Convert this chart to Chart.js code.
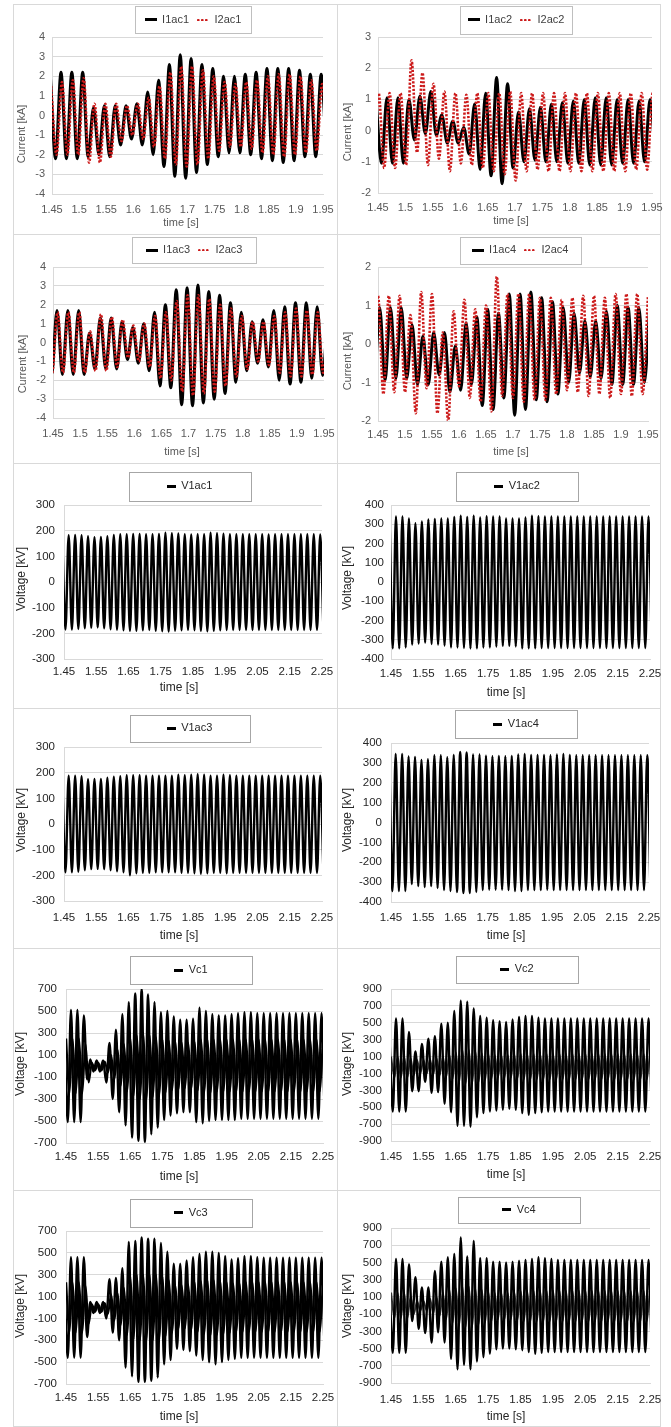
<!DOCTYPE html>
<html>
<head>
<meta charset="utf-8">
<script src="https://cdn.jsdelivr.net/npm/chart.js@4.4.1/dist/chart.umd.min.js"></script>
<style>
html,body{margin:0;padding:0;background:#fff;}
body{width:671px;height:1427px;position:relative;overflow:hidden;}
.panel{position:absolute;border:1px solid #d9d9d9;box-sizing:border-box;}
canvas{position:absolute;}
</style>
</head>
<body>
<script>
// ---------------- tick values ----------------
const currentTimeTicks = [1.45, 1.5, 1.55, 1.6, 1.65, 1.7, 1.75, 1.8, 1.85, 1.9, 1.95];
const voltageTimeTicks = [1.45, 1.55, 1.65, 1.75, 1.85, 1.95, 2.05, 2.15, 2.25];
const yTicksI4 = [-4, -3, -2, -1, 0, 1, 2, 3, 4];
const yTicksI3 = [-2, -1, 0, 1, 2, 3];
const yTicksI2 = [-2, -1, 0, 1, 2];
const yTicksV300 = [-300, -200, -100, 0, 100, 200, 300];
const yTicksV400 = [-400, -300, -200, -100, 0, 100, 200, 300, 400];
const yTicksVc700 = [-700, -500, -300, -100, 100, 300, 500, 700];
const yTicksVc900 = [-900, -700, -500, -300, -100, 100, 300, 500, 700, 900];

// ---------------- series: successive peaks (hi) and troughs (lo) ----------------
// t0 = time of the first peak [s]
const I1ac1_t0 = 1.4466;
const I1ac1_hi = [2.2,2.2,2.2,2.2,0.4,0.5,0.5,0.5,0.6,1.2,1.8,2.6,3.1,2.9,2.6,2.4,2.0,2.0,2.1,2.2,2.4,2.4,2.4,2.3,2.1,2.1];
const I1ac1_lo = [-2.2,-2.2,-2.2,-2.1,-2.0,-2.1,-1.5,-1.2,-1.5,-2.0,-2.6,-3.1,-3.2,-2.9,-2.5,-2.1,-1.9,-1.9,-2.0,-2.2,-2.3,-2.4,-2.3,-2.1,-2.1,-2.1];
const I2ac1_t0 = 1.4484;
const I2ac1_hi = [1.5,1.7,1.8,1.9,0.6,0.6,0.6,0.5,0.6,0.9,1.5,2.2,2.5,2.5,2.3,2.0,1.7,1.6,1.7,1.8,2.0,2.1,2.1,2.0,1.8,1.6];
const I2ac1_lo = [-2.0,-2.0,-2.0,-2.4,-2.4,-2.1,-1.3,-1.0,-1.2,-1.6,-2.2,-2.5,-2.6,-2.5,-2.2,-1.8,-1.6,-1.6,-1.7,-1.9,-2.0,-2.1,-2.0,-1.9,-1.8,-1.8];

const I1ac2_t0 = 1.4464;
const I1ac2_hi = [1.0,1.05,1.05,1.0,1.1,1.25,0.5,0.3,0.1,0.85,1.2,1.7,1.5,0.6,0.7,0.75,0.85,0.9,0.95,1.0,1.05,1.05,1.0,1.0,0.95,1.0];
const I1ac2_lo = [-1.05,-1.05,-1.05,-0.3,-0.1,-0.15,-0.4,-0.4,-0.75,-1.25,-1.45,-1.7,-1.2,-1.0,-0.95,-1.0,-1.0,-1.05,-1.05,-1.1,-1.1,-1.1,-1.05,-1.05,-1.0,-0.9];
const I2ac2_t0 = 1.4312;
const I2ac2_hi = [1.2,1.2,1.2,1.2,2.25,1.85,1.5,1.25,1.2,1.15,1.2,1.2,1.2,1.25,1.2,1.2,1.2,1.2,1.2,1.2,1.2,1.2,1.2,1.2,1.2,1.2,1.2];
const I2ac2_lo = [-1.2,-1.2,-1.2,-1.1,-0.7,-1.1,-0.9,-1.3,-1.05,-1.1,-1.2,-1.3,-1.4,-1.6,-1.3,-1.25,-1.3,-1.3,-1.3,-1.3,-1.3,-1.3,-1.3,-1.3,-1.25,-1.25,-1.25];

const I1ac3_t0 = 1.4374;
const I1ac3_hi = [1.7,1.7,1.7,1.7,0.5,1.3,1.3,1.1,0.8,1.0,1.6,2.0,2.8,2.9,3.05,2.7,2.5,2.1,1.6,1.1,1.2,1.7,1.9,2.1,2.1,1.9,1.8];
const I1ac3_lo = [-1.7,-1.7,-1.7,-1.7,-1.4,-1.4,-1.4,-0.9,-1.1,-1.5,-2.3,-2.4,-3.3,-3.35,-3.2,-3.0,-2.7,-2.1,-1.5,-1.1,-1.3,-2.0,-2.2,-2.1,-1.9,-1.75];
const I2ac3_t0 = 1.4384;
const I2ac3_hi = [1.6,1.6,1.6,1.6,0.6,1.5,1.35,1.2,0.9,1.0,1.4,1.6,2.2,2.5,2.5,2.3,2.0,1.8,1.4,1.1,1.1,1.4,1.6,1.8,1.7,1.6,1.5];
const I2ac3_lo = [-1.6,-1.6,-1.6,-1.6,-1.5,-1.5,-1.3,-0.8,-1.0,-1.3,-1.9,-2.0,-2.6,-2.8,-2.7,-2.6,-2.3,-1.8,-1.4,-1.0,-1.2,-1.6,-1.8,-1.8,-1.7,-1.6];

const I1ac4_t0 = 1.4331;
const I1ac4_hi = [0.95,0.95,0.95,0.95,0.5,0.2,0.3,0.3,-0.05,0.55,0.7,0.9,0.8,1.3,1.3,1.35,1.2,1.1,0.95,0.8,0.6,0.6,0.85,1.0,0.95,0.95,0.95];
const I1ac4_lo = [-0.95,-0.95,-0.9,-0.9,-1.05,-1.05,-0.8,-1.25,-1.2,-1.05,-1.6,-1.7,-1.4,-1.85,-1.7,-1.45,-1.5,-1.3,-1.0,-0.75,-0.85,-0.9,-1.05,-1.05,-1.05,-1.0];
const I2ac4_t0 = 1.43;
const I2ac4_hi = [1.25,1.25,1.25,1.25,0.75,1.35,1.3,0.3,0.85,1.15,0.9,1.0,1.75,1.3,1.3,1.3,1.2,1.2,1.15,1.2,1.25,1.25,1.2,1.3,1.3,1.3,1.25];
const I2ac4_lo = [-1.3,-1.3,-1.25,-1.25,-1.8,-1.15,-1.8,-2.0,-1.1,-1.4,-1.5,-1.75,-1.35,-1.4,-1.5,-1.45,-1.45,-1.3,-1.2,-1.25,-1.35,-1.3,-1.4,-1.3,-1.35,-1.3];

const V1ac1_t0 = 1.4445;
const V1ac1_hi = [182,182,183,182,178,175,176,178,183,186,186,187,187,186,186,187,192,190,189,186,185,186,186,192,190,188,186,186,186,186,186,186,185,186,186,186,186,186,186,186,185];
const V1ac1_lo = [-185,-185,-183,-180,-178,-177,-180,-184,-186,-188,-190,-190,-188,-187,-190,-192,-193,-190,-188,-187,-188,-190,-192,-190,-188,-187,-187,-187,-187,-187,-187,-187,-187,-187,-187,-187,-187,-187,-187,-187,-187];
const V1ac2_t0 = 1.4454;
const V1ac2_hi = [340,340,340,330,305,315,325,328,330,330,338,345,338,345,335,342,340,340,330,330,330,335,345,342,340,340,340,340,340,340,340,340,340,340,340,340,340,340,340,340,340];
const V1ac2_lo = [-345,-345,-340,-325,-320,-315,-322,-325,-330,-340,-340,-343,-345,-345,-340,-340,-335,-332,-332,-335,-345,-345,-345,-343,-343,-343,-343,-343,-343,-343,-343,-343,-343,-343,-343,-343,-343,-343,-343,-343,-343];
const V1ac3_t0 = 1.4445;
const V1ac3_hi = [188,188,188,186,175,176,176,180,184,186,190,190,190,188,188,188,188,188,192,190,192,194,192,188,188,192,190,188,188,188,188,188,188,188,188,188,188,188,188,188,188];
const V1ac3_lo = [-188,-188,-186,-180,-176,-175,-176,-180,-184,-188,-200,-192,-190,-190,-188,-188,-188,-188,-190,-190,-192,-194,-192,-190,-190,-192,-190,-190,-190,-190,-190,-190,-190,-190,-190,-190,-190,-190,-190,-190,-190];
const V1ac4_t0 = 1.4445;
const V1ac4_hi = [345,345,345,332,330,315,318,338,338,328,340,355,352,343,342,336,333,335,333,335,343,345,340,340,340,338,343,345,340,338,338,338,338,338,338,338,338,338,338,338,338];
const V1ac4_lo = [-345,-345,-345,-310,-320,-325,-320,-330,-340,-345,-350,-355,-355,-350,-340,-338,-338,-338,-340,-345,-345,-340,-340,-340,-338,-340,-340,-340,-340,-340,-340,-340,-340,-340,-340,-340,-340,-340,-340,-340,-340];

const Vc1_t0 = 1.4455;
const Vc1_hi = [250,510,510,460,60,50,50,210,330,470,580,660,700,650,580,490,500,450,420,420,430,530,500,470,460,460,470,480,490,490,480,480,480,480,480,480,480,480,480,480,480];
const Vc1_lo = [-510,-510,-510,-120,-50,-50,-150,-300,-420,-540,-650,-680,-690,-620,-560,-490,-450,-430,-420,-420,-510,-520,-500,-490,-490,-490,-490,-480,-480,-480,-480,-480,-480,-480,-480,-480,-480,-480,-480,-480,-480];
const Vc1_in_hi = [250,250,250,200,30,30,40,100,150,200,250,280,300,280,260,240,230,220,210,210,220,240,240,240,240,240,240,240,240,240,240,240,240,240,240,240,240,240,240,240,240];
const Vc1_in_lo = [-250,-250,-250,-150,-40,-40,-60,-120,-180,-230,-270,-300,-300,-280,-260,-240,-220,-210,-200,-200,-220,-240,-240,-230,-230,-230,-230,-230,-230,-230,-230,-230,-230,-230,-230,-230,-230,-230,-230,-230,-230];

const Vc2_t0 = 1.4455;
const Vc2_hi = [300,550,550,390,160,250,310,340,490,500,640,760,750,670,580,560,530,520,510,540,570,580,580,560,550,550,550,550,550,550,550,550,550,550,550,550,550,550,550,550,550];
const Vc2_lo = [-550,-550,-550,-310,-310,-200,-330,-320,-460,-560,-720,-720,-730,-620,-570,-550,-540,-530,-520,-530,-570,-590,-570,-560,-550,-550,-550,-550,-550,-550,-550,-550,-550,-550,-550,-550,-550,-550,-550,-550,-550];
const Vc2_in_hi = [100,100,100,80,60,60,70,80,100,120,150,180,180,160,140,130,120,120,120,130,130,130,130,130,130,130,130,130,130,130,130,130,130,130,130,130,130,130,130,130,130];
const Vc2_in_lo = [-150,-150,-150,-120,-100,-100,-110,-120,-140,-160,-200,-220,-220,-200,-180,-160,-150,-150,-150,-160,-170,-170,-170,-170,-170,-170,-170,-170,-170,-170,-170,-170,-170,-170,-170,-170,-170,-170,-170,-170,-170];

const Vc3_t0 = 1.4455;
const Vc3_hi = [200,460,460,460,50,50,50,260,270,360,600,610,640,630,630,590,510,400,400,430,460,490,510,510,500,470,440,450,470,470,460,455,455,455,455,455,455,455,455,455,455];
const Vc3_lo = [-460,-460,-460,-270,-50,-50,-100,-230,-300,-550,-630,-680,-680,-670,-640,-520,-480,-380,-390,-400,-440,-480,-500,-520,-500,-480,-470,-460,-460,-460,-460,-460,-460,-460,-460,-460,-460,-460,-460,-460,-460];
const Vc3_in_hi = [230,230,230,200,30,30,40,120,130,180,280,300,300,300,300,280,250,200,200,210,230,240,250,250,240,230,220,220,230,230,230,230,230,230,230,230,230,230,230,230,230];
const Vc3_in_lo = [-230,-230,-230,-150,-40,-40,-60,-120,-160,-250,-290,-300,-300,-300,-290,-260,-230,-190,-190,-200,-220,-240,-250,-250,-240,-230,-220,-220,-220,-220,-220,-220,-220,-220,-220,-220,-220,-220,-220,-220,-220];

const Vc4_t0 = 1.4455;
const Vc4_hi = [200,540,540,480,330,210,210,400,510,560,600,790,570,750,550,550,510,510,500,510,520,530,540,560,550,540,530,530,530,530,530,530,530,530,530,530,530,530,530,530,530];
const Vc4_lo = [-550,-550,-550,-180,-270,-320,-430,-310,-430,-620,-740,-690,-740,-650,-600,-560,-510,-500,-500,-510,-520,-540,-560,-550,-540,-540,-540,-540,-540,-540,-540,-540,-540,-540,-540,-540,-540,-540,-540,-540,-540];
const Vc4_in_hi = [150,150,150,100,50,50,80,100,150,180,200,220,220,200,180,160,150,150,150,160,170,170,170,170,170,170,170,170,170,170,170,170,170,170,170,170,170,170,170,170,170];
const Vc4_in_lo = [-150,-150,-150,-100,-60,-60,-90,-120,-160,-200,-230,-250,-250,-220,-200,-180,-160,-160,-160,-170,-180,-180,-180,-180,-180,-180,-180,-180,-180,-180,-180,-180,-180,-180,-180,-180,-180,-180,-180,-180,-180];

// ---------------- helpers ----------------
const HALF = 0.01; // half period of the 50 Hz waveforms [s]
function wave(hi, lo, t0) {
  const pts = [];
  const n = Math.max(hi.length, lo.length);
  for (let k = 0; k < n; k++) {
    if (k < hi.length) pts.push({x: t0 + 2 * HALF * k, y: hi[k]});
    if (k < lo.length) pts.push({x: t0 + HALF + 2 * HALF * k, y: lo[k]});
  }
  return pts;
}
const FONT = "'Liberation Sans', Arial, sans-serif";
const BLACK = '#000000', RED = '#cc1a1a';

// legend sample glyphs (solid bar / dotted)
function sampleSolid(w, h, color) {
  const c = document.createElement('canvas'); c.width = w; c.height = h;
  const g = c.getContext('2d'); g.fillStyle = color; g.fillRect(0, 0, w, h);
  return c;
}
function sampleDots(w, h, color) {
  const c = document.createElement('canvas'); c.width = w; c.height = h;
  const g = c.getContext('2d'); g.fillStyle = color;
  for (let x = h / 2; x < w; x += 4) { g.beginPath(); g.arc(x, h / 2, h / 2, 0, Math.PI * 2); g.fill(); }
  return c;
}

function ds(label, data, color, width, dash, order, inLegend, sample) {
  return {label, data, borderColor: color, backgroundColor: color, borderWidth: width,
    borderDash: dash, pointRadius: 0, pointHoverRadius: 0, fill: false,
    cubicInterpolationMode: 'monotone', order, inLegend: inLegend !== false, sample};
}

const CUR = {tickFont: 11, tickColor: '#595959', titleFont: 11, titleColor: '#595959',
  legendFont: 11, legendColor: '#404040', boxColor: '#bfbfbf', legendLine: 12,
  yTitle: 'Current [kA]', xMin: 1.45, xMax: 1.95, xTicks: currentTimeTicks};
const VOLT = {tickFont: 11.5, tickColor: '#262626', titleFont: 12, titleColor: '#262626',
  legendFont: 11, legendColor: '#262626', boxColor: '#a6a6a6', legendLine: 9,
  yTitle: 'Voltage [kV]', xMin: 1.45, xMax: 2.25, xTicks: voltageTimeTicks};

const SOLID_C = sampleSolid(12, 3, BLACK);
const DOTS_C = sampleDots(12, 2.6, RED);
const SOLID_V = sampleSolid(9, 3, BLACK);

const ROWS = [4, 234, 463, 708, 948, 1190, 1427];
const COLS = [[13, 338], [337, 661]];
const EX = 10;
const DOT = [2.2, 1.6];

const panels = [
  {s: CUR, c: 0, r: 0, plot: [52, 323, 37, 194], lg: [193, 19.5, 116, 27], yt: [22, 134], xt: [181, 223], xTickY: 210, yPad: 7, yTicks: yTicksI4,
   sets: [ds('I1ac1', wave(I1ac1_hi, I1ac1_lo, I1ac1_t0), BLACK, 3, [], 2, true, SOLID_C), ds('I2ac1', wave(I2ac1_hi, I2ac1_lo, I2ac1_t0), RED, 2.6, DOT, 1, true, DOTS_C)]},
  {s: CUR, c: 1, r: 0, plot: [378, 652, 37, 193], lg: [516, 19.5, 112, 28], yt: [348, 132], xt: [511, 221], xTickY: 208, yPad: 7, yTicks: yTicksI3,
   sets: [ds('I1ac2', wave(I1ac2_hi, I1ac2_lo, I1ac2_t0), BLACK, 3, [], 2, true, SOLID_C), ds('I2ac2', wave(I2ac2_hi, I2ac2_lo, I2ac2_t0), RED, 2.6, DOT, 1, true, DOTS_C)]},
  {s: CUR, c: 0, r: 1, plot: [53, 324, 267, 418], lg: [194, 250, 124, 26], yt: [23, 364], xt: [182, 452], xTickY: 434, yPad: 7, yTicks: yTicksI4,
   sets: [ds('I1ac3', wave(I1ac3_hi, I1ac3_lo, I1ac3_t0), BLACK, 3, [], 2, true, SOLID_C), ds('I2ac3', wave(I2ac3_hi, I2ac3_lo, I2ac3_t0), RED, 2.6, DOT, 1, true, DOTS_C)]},
  {s: CUR, c: 1, r: 1, plot: [378, 648, 267, 421], lg: [520, 250, 121, 27], yt: [348, 361], xt: [511, 452], xTickY: 435, yPad: 7, yTicks: yTicksI2,
   sets: [ds('I1ac4', wave(I1ac4_hi, I1ac4_lo, I1ac4_t0), BLACK, 3, [], 2, true, SOLID_C), ds('I2ac4', wave(I2ac4_hi, I2ac4_lo, I2ac4_t0), RED, 2.6, DOT, 1, true, DOTS_C)]},
  {s: VOLT, c: 0, r: 2, plot: [64, 322, 505, 659], lg: [189.5, 486, 122, 29], yt: [22, 579], xt: [179, 688], xTickY: 672, yPad: 9, yTicks: yTicksV300,
   sets: [ds('V1ac1', wave(V1ac1_hi, V1ac1_lo, V1ac1_t0), BLACK, 2.4, [], 1, true, SOLID_V)]},
  {s: VOLT, c: 1, r: 2, plot: [391, 650, 505, 659], lg: [517, 486, 122, 29], yt: [348, 578], xt: [506, 693], xTickY: 674, yPad: 7, yTicks: yTicksV400,
   sets: [ds('V1ac2', wave(V1ac2_hi, V1ac2_lo, V1ac2_t0), BLACK, 2.4, [], 1, true, SOLID_V)]},
  {s: VOLT, c: 0, r: 3, plot: [64, 322, 747, 901], lg: [189.5, 728, 120, 27], yt: [22, 820], xt: [179, 936], xTickY: 918, yPad: 9, yTicks: yTicksV300,
   sets: [ds('V1ac3', wave(V1ac3_hi, V1ac3_lo, V1ac3_t0), BLACK, 2.4, [], 1, true, SOLID_V)]},
  {s: VOLT, c: 1, r: 3, plot: [391, 649, 743, 902], lg: [516, 724, 122, 28], yt: [348, 820], xt: [506, 936], xTickY: 918, yPad: 9, yTicks: yTicksV400,
   sets: [ds('V1ac4', wave(V1ac4_hi, V1ac4_lo, V1ac4_t0), BLACK, 2.4, [], 1, true, SOLID_V)]},
  {s: VOLT, c: 0, r: 4, plot: [66, 323, 989, 1143], lg: [191, 970, 122, 28], yt: [21, 1064], xt: [179, 1177], xTickY: 1157, yPad: 9, yTicks: yTicksVc700,
   sets: [ds('Vc1', wave(Vc1_hi, Vc1_lo, Vc1_t0), BLACK, 2.4, [], 1, true, SOLID_V), ds('Vc1 ripple', wave(Vc1_in_hi, Vc1_in_lo, Vc1_t0 + HALF / 2), BLACK, 2.1, [], 2, false)]},
  {s: VOLT, c: 1, r: 4, plot: [391, 650, 989, 1141], lg: [517, 969, 122, 27], yt: [348, 1064], xt: [506, 1175], xTickY: 1157, yPad: 9, yTicks: yTicksVc900,
   sets: [ds('Vc2', wave(Vc2_hi, Vc2_lo, Vc2_t0), BLACK, 2.4, [], 1, true, SOLID_V), ds('Vc2 ripple', wave(Vc2_in_hi, Vc2_in_lo, Vc2_t0 + HALF / 2), '#333333', 1.8, [], 2, false)]},
  {s: VOLT, c: 0, r: 5, plot: [66, 323, 1231, 1384], lg: [191, 1212.5, 122, 28], yt: [21, 1306], xt: [179, 1417], xTickY: 1398, yPad: 9, yTicks: yTicksVc700,
   sets: [ds('Vc3', wave(Vc3_hi, Vc3_lo, Vc3_t0), BLACK, 2.4, [], 1, true, SOLID_V), ds('Vc3 ripple', wave(Vc3_in_hi, Vc3_in_lo, Vc3_t0 + HALF / 2), BLACK, 2.1, [], 2, false)]},
  {s: VOLT, c: 1, r: 5, plot: [391, 650, 1228, 1383], lg: [519, 1209.5, 122, 26], yt: [348, 1306], xt: [506, 1417], xTickY: 1400, yPad: 9, yTicks: yTicksVc900,
   sets: [ds('Vc4', wave(Vc4_hi, Vc4_lo, Vc4_t0), BLACK, 2.4, [], 1, true, SOLID_V), ds('Vc4 ripple', wave(Vc4_in_hi, Vc4_in_lo, Vc4_t0 + HALF / 2), '#333333', 1.8, [], 2, false)]},
];

const decoPlugin = {
  id: 'deco',
  afterUpdate(chart, args, o) {
    const lg = chart.legend;
    if (!lg) return;
    const w = lg.right - lg.left, h = lg.bottom - lg.top;
    lg.left = o.lx - w / 2; lg.right = o.lx + w / 2;
    lg.top = o.ly - o.lpad - o.lfs / 2; lg.bottom = lg.top + h;
  },
  afterDraw(chart, args, o) {
    const ctx = chart.ctx;
    ctx.save();
    ctx.strokeStyle = o.boxColor; ctx.lineWidth = 1; ctx.setLineDash([]);
    ctx.strokeRect(Math.round(o.lx - o.bw / 2) + 0.5, Math.round(o.ly - o.bh / 2) + 0.5, o.bw, o.bh);
    ctx.fillStyle = o.titleColor;
    ctx.font = o.titleFont + 'px ' + FONT;
    ctx.textAlign = 'center'; ctx.textBaseline = 'middle';
    ctx.fillText(o.xTitle, o.xtx, o.xty);
    ctx.translate(o.ytx, o.yty); ctx.rotate(-Math.PI / 2);
    ctx.fillText(o.yTitle, 0, 0);
    ctx.restore();
  }
};

panels.forEach(p => {
  const s = p.s;
  const x0 = COLS[p.c][0], x1 = COLS[p.c][1];
  const y0 = ROWS[p.r], y1 = Math.min(ROWS[p.r + 1] + 1, 1427);
  const box = document.createElement('div');
  box.className = 'panel';
  box.style.left = x0 + 'px'; box.style.top = y0 + 'px';
  box.style.width = (x1 - x0) + 'px'; box.style.height = (y1 - y0) + 'px';
  document.body.appendChild(box);

  const cx0 = x0 - EX, cy0 = y0;
  const cw = (x1 - x0) + 2 * EX, ch = y1 - y0;
  const cv = document.createElement('canvas');
  cv.width = cw; cv.height = ch;
  cv.style.left = cx0 + 'px'; cv.style.top = cy0 + 'px';
  cv.style.width = cw + 'px'; cv.style.height = ch + 'px';
  document.body.appendChild(cv);

  const [l, r, t, b] = p.plot;
  const lpad = 8;
  const legendH = s.legendFont + lpad + 10;
  const padTop = Math.max(0, (t - cy0) - legendH);
  const yW = l - cx0;
  const xH = (cy0 + ch) - b;
  const padR = (cx0 + cw) - r;
  const xTickPad = (p.xTickY - b) - 0.6 * s.tickFont;
  const tickFont = {family: FONT, size: s.tickFont};

  new Chart(cv, {
    type: 'line',
    data: {datasets: p.sets},
    plugins: [decoPlugin],
    options: {
      responsive: false, animation: false, devicePixelRatio: 1,
      layout: {padding: {left: 0, right: padR, top: padTop, bottom: 0}},
      interaction: {mode: null},
      scales: {
        x: {
          type: 'linear', min: s.xMin, max: s.xMax,
          grid: {display: false, drawTicks: false},
          border: {display: true, color: '#d9d9d9'},
          ticks: {padding: xTickPad, color: s.tickColor, font: tickFont, maxRotation: 0, autoSkip: false,
            callback: v => String(v)},
          afterBuildTicks: sc => { sc.ticks = s.xTicks.map(v => ({value: v})); },
          afterFit: sc => { sc.height = xH; sc.paddingLeft = 0; sc.paddingRight = 0; }
        },
        y: {
          type: 'linear', min: p.yTicks[0], max: p.yTicks[p.yTicks.length - 1],
          grid: {color: '#d9d9d9', lineWidth: 1, drawTicks: false},
          border: {display: true, color: '#d9d9d9'},
          ticks: {padding: p.yPad, color: s.tickColor, font: tickFont, callback: v => String(v)},
          afterBuildTicks: sc => { sc.ticks = p.yTicks.map(v => ({value: v})); },
          afterFit: sc => { sc.width = yW; sc.paddingTop = 0; sc.paddingBottom = 0; }
        }
      },
      plugins: {
        tooltip: {enabled: false},
        legend: {
          display: true, position: 'top',
          labels: {
            usePointStyle: true, pointStyleWidth: s.legendLine,
            padding: lpad, color: s.legendColor, font: {family: FONT, size: s.legendFont},
            filter: (item, data) => data.datasets[item.datasetIndex].inLegend !== false,
            sort: (a, b2) => a.datasetIndex - b2.datasetIndex,
            generateLabels: chart => {
              const items = Chart.defaults.plugins.legend.labels.generateLabels(chart);
              items.forEach(it => {
                const d = chart.data.datasets[it.datasetIndex];
                if (d.sample) it.pointStyle = d.sample;
              });
              return items;
            }
          }
        },
        deco: {
          lx: p.lg[0] - cx0, ly: p.lg[1] - cy0, bw: p.lg[2], bh: p.lg[3],
          lpad: lpad, lfs: s.legendFont, boxColor: s.boxColor,
          titleColor: s.titleColor, titleFont: s.titleFont,
          xTitle: 'time [s]', xtx: p.xt[0] - cx0, xty: p.xt[1] - cy0,
          yTitle: s.yTitle, ytx: p.yt[0] - cx0, yty: p.yt[1] - cy0
        }
      }
    }
  });
});
</script>
</body>
</html>
